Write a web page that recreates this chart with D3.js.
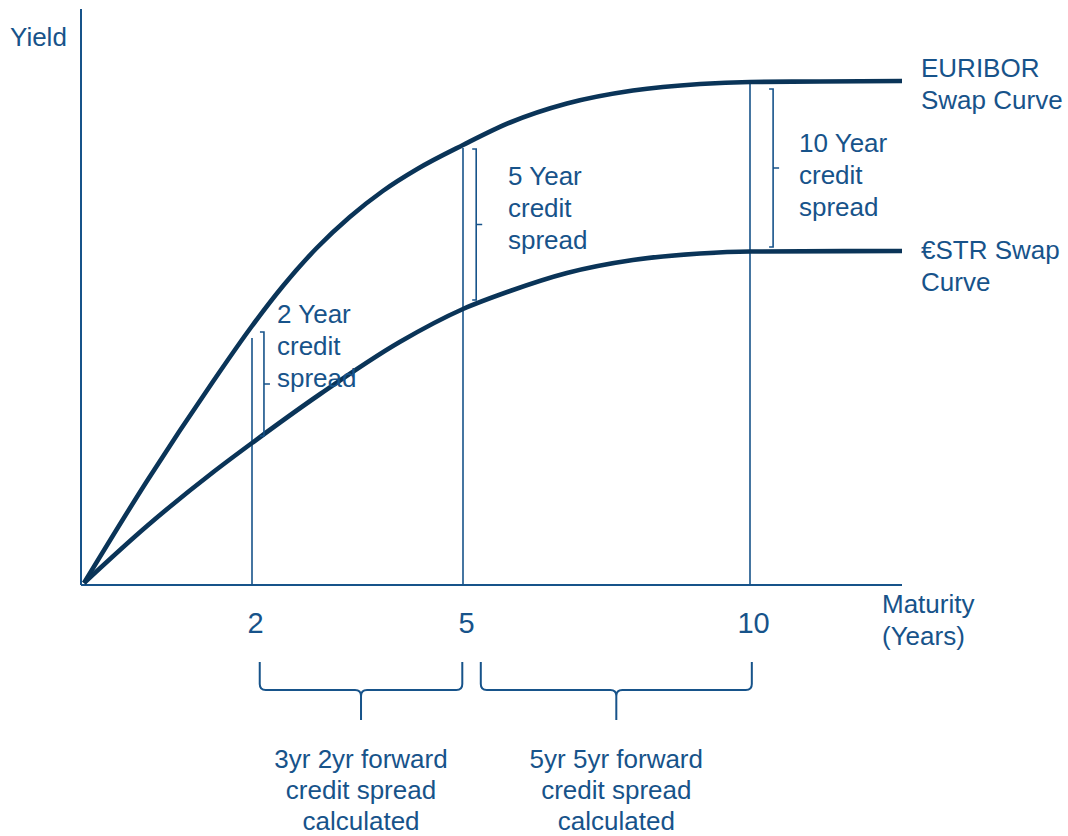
<!DOCTYPE html>
<html>
<head>
<meta charset="utf-8">
<script src="https://cdn.jsdelivr.net/npm/d3@7"></script>
<style>
  html, body { margin: 0; padding: 0; background: #ffffff; }
  svg { display: block; font-family: "Liberation Sans", Arial, sans-serif; }
</style>
</head>
<body>
<svg id="chart" width="1068" height="836"></svg>
<script>
// ---------------- DATA ----------------
const tickMaturities = [2, 5, 10];
const tickLabels = ["2", "5", "10"];

// EURIBOR swap curve (maturity in years, yield in schematic units)
const euriborMaturity = [0, 0.75, 1.54, 2, 2.44, 2.92, 3.39, 3.86, 4.35, 5, 5.82, 6.81, 7.96, 9.13, 10, 11.15, 12.5];
const euriborYield    = [0, 2.04, 4.04, 5.14, 5.94, 6.70, 7.32, 7.84, 8.28, 8.76, 9.21, 9.59, 9.85, 9.98, 10.02, 10.03, 10.04];

// €STR swap curve
const estrMaturity = [0, 0.75, 1.54, 2, 2.97, 4.10, 5, 5.82, 6.81, 7.96, 9.13, 10, 12.5];
const estrYield    = [0, 1.14, 2.22, 2.80, 3.78, 4.82, 5.48, 5.84, 6.20, 6.46, 6.59, 6.63, 6.64];

// vertical maturity lines (top yield of each line)
const spreadMaturities = [2, 5, 10];
const spreadTopYield = [4.9, 8.7, 10.02];

// credit-spread brackets
const bracketMaturity = [2.17, 5.23, 10.38];
const bracketTop      = [5.02, 8.68, 9.88];
const bracketBottom   = [2.94, 5.66, 6.72];
const bracketLabels = [
  ["2 Year", "credit", "spread"],
  ["5 Year", "credit", "spread"],
  ["10 Year", "credit", "spread"]
];

// forward braces below the axis
const braceFrom = [2.11, 5.31];
const braceTo   = [4.99, 10.03];
const braceLabels = [
  ["3yr 2yr forward", "credit spread", "calculated"],
  ["5yr 5yr forward", "credit spread", "calculated"]
];

const curveLabels = [
  ["EURIBOR", "Swap Curve"],
  ["\u20ACSTR Swap", "Curve"]
];
const yAxisLabel = "Yield";
const xAxisLabel = ["Maturity", "(Years)"];

// ---------------- LAYOUT / STYLE ----------------
const TEXT = "#17538a";
const CURVE = "#0a3458";
const FONT = 26;
const LINE_H = 32;

const svg = d3.select("#chart");

// schematic (non-linear) maturity axis
const x = d3.scaleLinear().domain([0, 2, 5, 10, 12.5]).range([84, 252, 463, 750, 902]);
const y = d3.scaleLinear().domain([0, 10]).range([583, 83]);

// axes lines
svg.append("line").attr("x1", 81).attr("x2", 81).attr("y1", 9).attr("y2", 585)
  .attr("stroke", TEXT).attr("stroke-width", 2);
svg.append("line").attr("x1", 81).attr("x2", 902).attr("y1", 585).attr("y2", 585)
  .attr("stroke", TEXT).attr("stroke-width", 2);

// x tick labels via d3 axis
const xAxis = d3.axisBottom(x).tickValues(tickMaturities)
  .tickFormat((d, i) => tickLabels[i]).tickSize(0);
const gx = svg.append("g").attr("transform", "translate(3,585)").call(xAxis);
gx.select(".domain").remove();
gx.selectAll("text").attr("y", 48).attr("dy", null)
  .attr("fill", TEXT).style("font-size", "29px")
  .style("font-family", "\"Liberation Sans\", Arial, sans-serif");

// vertical maturity lines
spreadMaturities.forEach((m, i) => {
  svg.append("line")
    .attr("x1", x(m)).attr("x2", x(m))
    .attr("y1", y(spreadTopYield[i])).attr("y2", 585)
    .attr("stroke", TEXT).attr("stroke-width", 1.6);
});

// curves
const lineGen = d3.line().x(d => x(d[0])).y(d => y(d[1])).curve(d3.curveMonotoneX);
svg.append("path").datum(euriborMaturity.map((m, i) => [m, euriborYield[i]]))
  .attr("d", lineGen).attr("fill", "none").attr("stroke", CURVE)
  .attr("stroke-width", 4.6).attr("stroke-linecap", "butt");
svg.append("path").datum(estrMaturity.map((m, i) => [m, estrYield[i]]))
  .attr("d", lineGen).attr("fill", "none").attr("stroke", CURVE)
  .attr("stroke-width", 4.6).attr("stroke-linecap", "butt");

// credit-spread brackets
bracketMaturity.forEach((m, i) => {
  const bx = x(m), t = y(bracketTop[i]), b = y(bracketBottom[i]), mid = (t + b) / 2;
  svg.append("path")
    .attr("d", `M${bx - 4},${t} H${bx} V${b} H${bx - 4} M${bx},${mid} H${bx + 6}`)
    .attr("fill", "none").attr("stroke", TEXT).attr("stroke-width", 1.6);
});

// multi-line text helper
function multiText(lines, px, py, anchor, lineH) {
  const lh = lineH || LINE_H;
  const t = svg.append("text").attr("x", px).attr("y", py)
    .attr("fill", TEXT).attr("text-anchor", anchor || "start")
    .style("font-size", FONT + "px");
  lines.forEach((ln, k) => {
    t.append("tspan").attr("x", px).attr("y", py + k * lh).text(ln);
  });
  return t;
}

// bracket label positions (px)
const bracketLabelPos = [[277, 323], [508, 185], [799, 152]];
bracketLabels.forEach((lines, i) => multiText(lines, bracketLabelPos[i][0], bracketLabelPos[i][1]));

// curve labels
multiText(curveLabels[0], 921, 77);
multiText(curveLabels[1], 921, 259);

// axis labels
multiText([yAxisLabel], 10, 46);
multiText(xAxisLabel, 882, 613);

// forward braces
braceFrom.forEach((f, i) => {
  const x0 = x(f), x1 = x(braceTo[i]), xm = (x0 + x1) / 2;
  const top = 662, bar = 690, tip = 720, r = 6;
  const d = `M${x0},${top} V${bar - r} Q${x0},${bar} ${x0 + r},${bar} H${xm - r} Q${xm},${bar} ${xm},${bar + r} V${tip}` +
            ` M${x1},${top} V${bar - r} Q${x1},${bar} ${x1 - r},${bar} H${xm + r} Q${xm},${bar} ${xm},${bar + r}`;
  svg.append("path").attr("d", d).attr("fill", "none")
    .attr("stroke", TEXT).attr("stroke-width", 2);
  multiText(braceLabels[i], xm, 768, "middle", 31);
});
</script>
</body>
</html>
